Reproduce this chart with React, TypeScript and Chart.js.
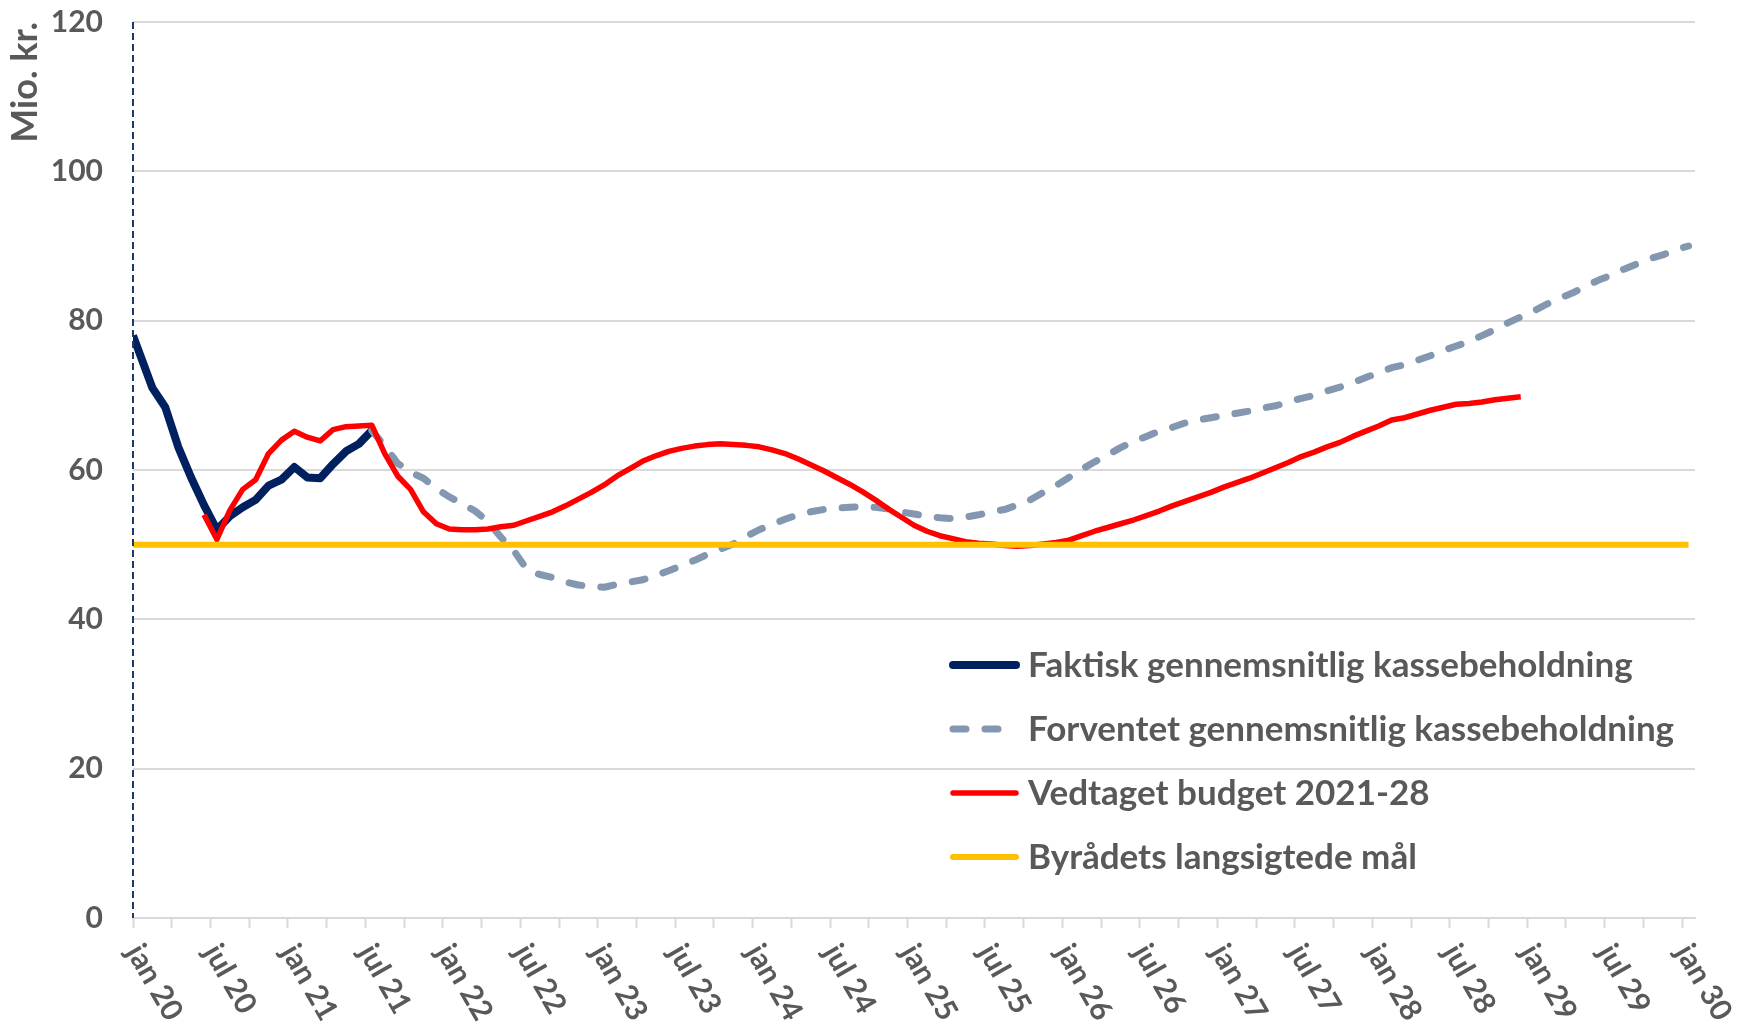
import React, { useEffect, useRef } from 'react';
import { Chart, registerables } from 'chart.js';

Chart.register(...registerables);

// ---------- data ----------
const monthNames = ['jan', 'feb', 'mar', 'apr', 'maj', 'jun', 'jul', 'aug', 'sep', 'okt', 'nov', 'dec'];
const years = [20, 21, 22, 23, 24, 25, 26, 27, 28, 29, 30];
const monthCount = 121; // jan 20 .. jan 30
const labelledMonths = ['jan', 'jul'];
const minorTickEvery = 3;

const categories: string[] = years
  .flatMap((y) => monthNames.map((m) => `${m} ${y}`))
  .slice(0, monthCount);

// observations are mid-month; the axis starts at 1 jan 20
const MID = 0.5;

// Faktisk gennemsnitlig kassebeholdning: opening 1 jan 20, then feb 20 .. jul 21
const faktiskOpening = 78.0;
const faktiskStart = 1;
const faktisk = [
  71.0, 68.4, 63.1, 59.0, 55.3, 52.0, 53.8, 55.0, 56.0,
  57.9, 58.7, 60.4, 59.0, 58.9, 60.8, 62.5, 63.5, 65.3,
];

// Forventet gennemsnitlig kassebeholdning: jul 21 .. jan 30
const forventetStart = 18;
const forventet = [
  65.3, 63.2, 60.9, 59.7, 58.9, 57.5, 56.4, 55.5, 54.5, 53.1,
  51.0, 49.2, 46.7, 46.0, 45.6, 45.0, 44.6, 44.4, 44.3, 44.7,
  45.0, 45.3, 45.9, 46.5, 47.2, 47.9, 48.7, 49.4, 50.1, 51.1,
  52.0, 52.7, 53.4, 54.0, 54.4, 54.7, 54.9, 55.0, 55.1, 55.0,
  54.8, 54.4, 54.1, 53.8, 53.6, 53.5, 53.7, 54.0, 54.4, 54.7,
  55.3, 56.0, 57.0, 57.9, 59.0, 60.1, 61.1, 62.0, 63.0, 63.8,
  64.5, 65.2, 65.7, 66.3, 66.7, 67.0, 67.3, 67.6, 67.9, 68.3,
  68.6, 69.1, 69.6, 70.0, 70.6, 71.1, 71.7, 72.4, 73.0, 73.7,
  74.1, 74.7, 75.3, 76.0, 76.6, 77.2, 78.0, 78.8, 79.7, 80.5,
  81.3, 82.2, 83.0, 83.7, 84.6, 85.4, 86.1, 86.9, 87.6, 88.3,
  88.8, 89.5, 90.0,
];

// Vedtaget budget 2021-28: jun 20 .. dec 28
const budgetStart = 5;
const budget = [
  54.0, 50.7, 54.6, 57.4, 58.7, 62.2, 64.0, 65.2, 64.4, 63.9,
  65.4, 65.8, 65.9, 66.0, 62.2, 59.2, 57.4, 54.4, 52.8, 52.1,
  52.0, 52.0, 52.1, 52.4, 52.6, 53.2, 53.8, 54.4, 55.2, 56.1,
  57.0, 58.0, 59.2, 60.2, 61.2, 61.9, 62.5, 62.9, 63.2, 63.4,
  63.5, 63.4, 63.3, 63.1, 62.7, 62.2, 61.5, 60.7, 59.9, 59.0,
  58.1, 57.1, 56.0, 54.8, 53.7, 52.6, 51.8, 51.2, 50.8, 50.4,
  50.2, 50.1, 49.9, 49.8, 49.9, 50.1, 50.3, 50.6, 51.2, 51.8,
  52.3, 52.8, 53.3, 53.9, 54.5, 55.2, 55.8, 56.4, 57.0, 57.7,
  58.3, 58.9, 59.6, 60.3, 61.0, 61.8, 62.4, 63.1, 63.7, 64.5,
  65.2, 65.9, 66.7, 67.0, 67.5, 68.0, 68.4, 68.8, 68.9, 69.1,
  69.4, 69.6, 69.8,
];

// Byrådets langsigtede mål
const targetValue = 50;

const yMin = 0;
const yMax = 120;
const yStep = 20;

// ---------- styles ----------
const TEXT = '#595959';
const GRID = '#D9D9D9';
const AXIS_NAVY = '#1F3864';
const FONT = 'Lato';

const series = [
  { label: 'Faktisk gennemsnitlig kassebeholdning', color: '#002060', width: 8, dash: [] as number[], cap: 'butt' as CanvasLineCap, order: 4 },
  { label: 'Forventet gennemsnitlig kassebeholdning', color: '#8497B0', width: 7, dash: [13, 19], cap: 'round' as CanvasLineCap, order: 3 },
  { label: 'Vedtaget budget 2021-28', color: '#FF0000', width: 5.5, dash: [] as number[], cap: 'butt' as CanvasLineCap, order: 2 },
  { label: 'Byrådets langsigtede mål', color: '#FFC000', width: 6, dash: [] as number[], cap: 'butt' as CanvasLineCap, order: 1 },
];

const toPoints = (start: number, values: number[]) =>
  values.map((v, i) => ({ x: start + i + MID, y: v }));

const seriesData = [
  [{ x: 0, y: faktiskOpening }, ...toPoints(faktiskStart, faktisk)],
  toPoints(forventetStart, forventet),
  toPoints(budgetStart, budget),
  [{ x: 0, y: targetValue }, ...categories.map((_, i) => ({ x: i + MID, y: targetValue }))],
];

const overlayPlugin = {
  id: 'overlay',
  afterDraw(chart: any) {
    const ctx: CanvasRenderingContext2D = chart.ctx;
    const xScale = chart.scales.x;
    const { left, top, bottom } = chart.chartArea;
    ctx.save();

    // dashed value axis line
    ctx.save();
    ctx.strokeStyle = AXIS_NAVY;
    ctx.lineWidth = 2;
    ctx.setLineDash([7, 4]);
    ctx.beginPath();
    ctx.moveTo(left, top);
    ctx.lineTo(left, bottom);
    ctx.stroke();
    ctx.restore();

    // rotated x tick labels
    ctx.fillStyle = TEXT;
    ctx.font = `bold 30px ${FONT}`;
    ctx.textAlign = 'left';
    ctx.textBaseline = 'middle';
    categories.forEach((label, i) => {
      if (!labelledMonths.includes(label.split(' ')[0])) return;
      const px = xScale.getPixelForValue(i);
      ctx.save();
      ctx.translate(px + 1, bottom + 29);
      ctx.rotate(Math.PI / 3);
      ctx.fillText(label, 0, 0);
      ctx.restore();
    });

    // legend
    const lx1 = 953;
    const lx2 = 1016;
    const tx = 1028;
    const ly = 665;
    const step = 64;
    series.forEach((s, i) => {
      const y = ly + i * step;
      ctx.save();
      ctx.strokeStyle = s.color;
      ctx.lineWidth = s.width;
      ctx.lineCap = 'round';
      ctx.setLineDash(s.dash);
      ctx.beginPath();
      ctx.moveTo(lx1, y);
      ctx.lineTo(lx2, y);
      ctx.stroke();
      ctx.restore();
      ctx.fillStyle = TEXT;
      ctx.font = `bold 35px ${FONT}`;
      ctx.textAlign = 'left';
      ctx.textBaseline = 'alphabetic';
      ctx.fillText(s.label, tx, y + 12);
    });
    ctx.restore();
  },
};

export default function App() {
  const canvasRef = useRef<HTMLCanvasElement>(null);

  useEffect(() => {
    document.body.style.margin = '0';
    const canvas = canvasRef.current;
    if (!canvas) return;
    const chart = new Chart(canvas, {
      type: 'line',
      data: {
        datasets: series.map((s, i) => ({
          label: s.label,
          data: seriesData[i],
          borderColor: s.color,
          backgroundColor: s.color,
          borderWidth: s.width,
          borderDash: s.dash,
          borderCapStyle: s.cap,
          borderJoinStyle: 'round' as CanvasLineJoin,
          pointRadius: 0,
          pointHoverRadius: 0,
          tension: 0,
          fill: false,
          order: s.order,
        })),
      },
      options: {
        animation: false,
        responsive: false,
        devicePixelRatio: 1,
        parsing: true,
        layout: { padding: { top: 22, right: 42, left: 0, bottom: 0 } },
        plugins: {
          legend: { display: false },
          tooltip: { enabled: false },
        },
        scales: {
          x: {
            type: 'linear',
            min: 0,
            max: monthCount,
            ticks: { display: false },
            afterBuildTicks: (s: any) => {
              s.ticks = categories
                .map((_, i) => i)
                .filter((i) => i % minorTickEvery === 0)
                .map((v) => ({ value: v }));
            },
            grid: {
              drawOnChartArea: false,
              drawTicks: true,
              tickLength: 10,
              tickWidth: 2,
              color: GRID,
              tickColor: GRID,
            },
            border: { display: true, color: GRID, width: 2 },
            afterFit: (s: any) => {
              s.height = 105;
            },
          },
          y: {
            min: yMin,
            max: yMax,
            ticks: {
              stepSize: yStep,
              color: TEXT,
              padding: 0,
              font: { family: FONT, weight: 'bold', size: 30 },
            },
            grid: { color: GRID, lineWidth: 2, drawTicks: true, tickLength: 30, tickColor: 'rgba(0,0,0,0)' },
            border: { display: false },
            title: {
              display: true,
              text: 'Mio. kr.',
              align: 'end',
              color: TEXT,
              font: { family: FONT, weight: 'bold', size: 36 },
              padding: { top: 4, bottom: 0 },
            },
            afterFit: (s: any) => {
              s.width = 133;
            },
          },
        },
      },
      plugins: [overlayPlugin],
    });
    return () => chart.destroy();
  }, []);

  return (
    <div style={{ width: 1737, height: 1023 }}>
      <canvas ref={canvasRef} width={1737} height={1023} style={{ display: 'block' }} />
    </div>
  );
}
